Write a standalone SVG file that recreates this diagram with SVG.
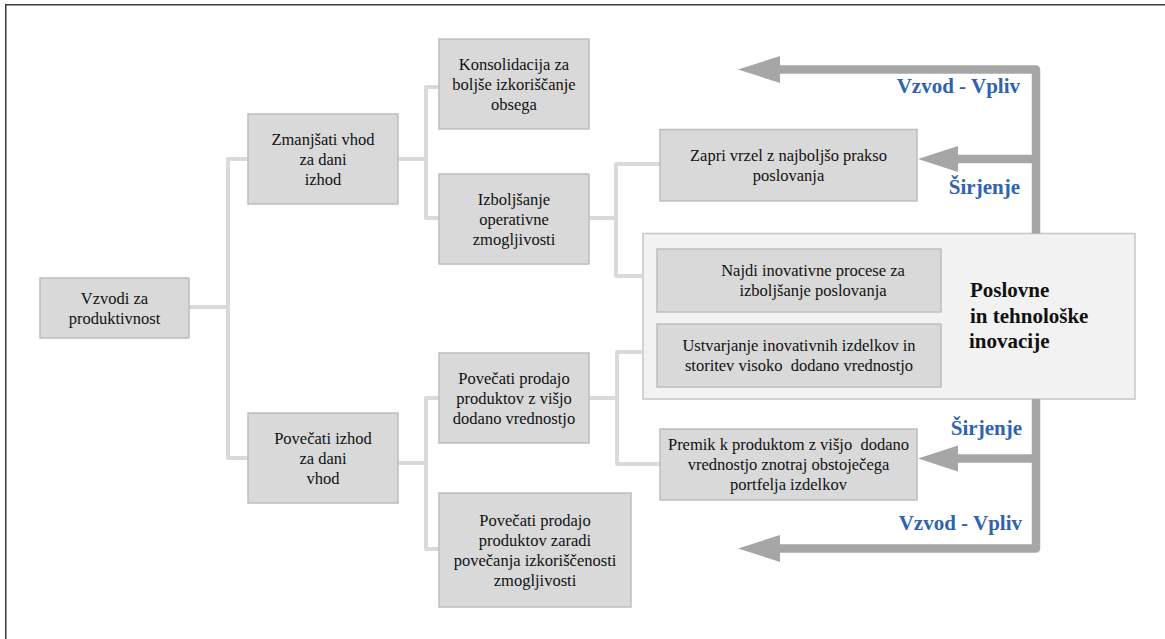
<svg xmlns="http://www.w3.org/2000/svg" width="1165" height="639" viewBox="0 0 1165 639">
  <style>
    .box { fill: #d9d9d9; stroke: #bdbdbd; stroke-width: 1.5; }
    .panel { fill: #f2f2f2; stroke: #c6c6c6; stroke-width: 1.5; }
    .t { font-family: "Liberation Serif", "Times New Roman", serif; font-size: 16.5px; fill: #111; text-anchor: middle; }
    .link { fill: none; stroke: #dadada; stroke-width: 4; stroke-linejoin: round; stroke-linecap: butt; }
    .flow { fill: none; stroke: #a6a6a6; stroke-width: 8.5; stroke-linejoin: round; }
    .head { fill: #a6a6a6; }
    .lbl { font-family: "Liberation Serif", "Times New Roman", serif; font-size: 21px; font-weight: bold; fill: #2f62b0; text-anchor: end; }
    .title { font-family: "Liberation Serif", "Times New Roman", serif; font-size: 21px; font-weight: bold; fill: #111; }
  </style>

  <rect x="0" y="0" width="1165" height="639" fill="#ffffff"/>
  <!-- frame -->
  <rect x="5.75" y="4.75" width="1165" height="640" fill="none" stroke="#3c3c3c" stroke-width="1.5"/>

  <!-- innovation panel -->
  <g id="panel-inovacije">
    <rect class="panel" x="643" y="233.5" width="492" height="165.5"/>
    <text class="title" x="970" y="297">Poslovne</text>
    <text class="title" x="970" y="322.5">in tehnološke</text>
    <text class="title" x="969" y="348">inovacije</text>
  </g>

  <!-- tree connectors -->
  <g id="connectors">
    <path class="link" d="M189,307 H228 M248,159 H228 V458 H248"/>
    <path class="link" d="M398,159 H426 M439,87 H426 V218 H439"/>
    <path class="link" d="M589,218 H616 M660,164 H616 V276 H643"/>
    <path class="link" d="M589,398 H617 M643,352 H617 V464 H660"/>
    <path class="link" d="M398,463 H426 M439,398 H426 V549 H439"/>

    <!-- feedback arrows from the innovation panel -->
    <path class="flow" d="M1036,233.5 V69.5 H776"/>
    <polygon class="head" points="738,69.5 780,56 780,83"/>
    <path class="flow" d="M1036,159 H954"/>
    <polygon class="head" points="918,159 958,146 958,172"/>
    <path class="flow" d="M1036,399 V548.5 H776"/>
    <polygon class="head" points="738,548.5 780,535 780,562"/>
    <path class="flow" d="M1036,458.5 H954"/>
    <polygon class="head" points="918,458.5 958,445.5 958,471.5"/>
  </g>

  <g id="labels">
    <text class="lbl" x="1020" y="93">Vzvod - Vpliv</text>
    <text class="lbl" x="1020" y="194">Širjenje</text>
    <text class="lbl" x="1022" y="435">Širjenje</text>
    <text class="lbl" x="1022" y="530">Vzvod - Vpliv</text>
  </g>

  <g id="n-vzvodi">
    <rect class="box" x="40" y="278" width="149" height="60"/>
    <text class="t" x="114.5" y="303.5">Vzvodi za</text>
    <text class="t" x="114.5" y="323.5">produktivnost</text>
  </g>

  <g id="n-zmanjsati">
    <rect class="box" x="248" y="114" width="150" height="90"/>
    <text class="t" x="323" y="144.5">Zmanjšati vhod</text>
    <text class="t" x="323" y="164.5">za dani</text>
    <text class="t" x="323" y="184.5">izhod</text>
  </g>

  <g id="n-povecati-izhod">
    <rect class="box" x="248" y="413" width="150" height="90"/>
    <text class="t" x="323" y="443.5">Povečati izhod</text>
    <text class="t" x="323" y="463.5">za dani</text>
    <text class="t" x="323" y="483.5">vhod</text>
  </g>

  <g id="n-konsolidacija">
    <rect class="box" x="439" y="39" width="150" height="90"/>
    <text class="t" x="514" y="69.5">Konsolidacija za</text>
    <text class="t" x="514" y="89.5">boljše izkoriščanje</text>
    <text class="t" x="514" y="109.5">obsega</text>
  </g>

  <g id="n-izboljsanje">
    <rect class="box" x="439" y="174" width="150" height="90"/>
    <text class="t" x="514" y="204.5">Izboljšanje</text>
    <text class="t" x="514" y="224.5">operativne</text>
    <text class="t" x="514" y="244.5">zmogljivosti</text>
  </g>

  <g id="n-prodaja-visja">
    <rect class="box" x="439" y="353" width="150" height="90"/>
    <text class="t" x="514" y="383.5">Povečati prodajo</text>
    <text class="t" x="514" y="403.5">produktov z višjo</text>
    <text class="t" x="514" y="423.5">dodano vrednostjo</text>
  </g>

  <g id="n-prodaja-zmogljivost">
    <rect class="box" x="439" y="493" width="192" height="114"/>
    <text class="t" x="535" y="525.5">Povečati prodajo</text>
    <text class="t" x="535" y="545.5">produktov zaradi</text>
    <text class="t" x="535" y="565.5">povečanja izkoriščenosti</text>
    <text class="t" x="535" y="585.5">zmogljivosti</text>
  </g>

  <g id="n-zapri">
    <rect class="box" x="660" y="129.5" width="257" height="71.5"/>
    <text class="t" x="788.5" y="160.5">Zapri vrzel z najboljšo prakso</text>
    <text class="t" x="788.5" y="180.5">poslovanja</text>
  </g>

  <g id="n-najdi">
    <rect class="box" x="657" y="249" width="284" height="63"/>
    <text class="t" x="813" y="276">Najdi inovativne procese za</text>
    <text class="t" x="813" y="296">izboljšanje poslovanja</text>
  </g>

  <g id="n-ustvarjanje">
    <rect class="box" x="657" y="324" width="284" height="63"/>
    <text class="t" x="799" y="351">Ustvarjanje inovativnih izdelkov in</text>
    <text class="t" x="799" y="371" xml:space="preserve">storitev visoko  dodano vrednostjo</text>
  </g>

  <g id="n-premik">
    <rect class="box" x="660" y="429" width="257" height="71"/>
    <text class="t" x="788.5" y="450" xml:space="preserve">Premik k produktom z višjo  dodano</text>
    <text class="t" x="788.5" y="470">vrednostjo znotraj obstoječega</text>
    <text class="t" x="788.5" y="490">portfelja izdelkov</text>
  </g>
</svg>
